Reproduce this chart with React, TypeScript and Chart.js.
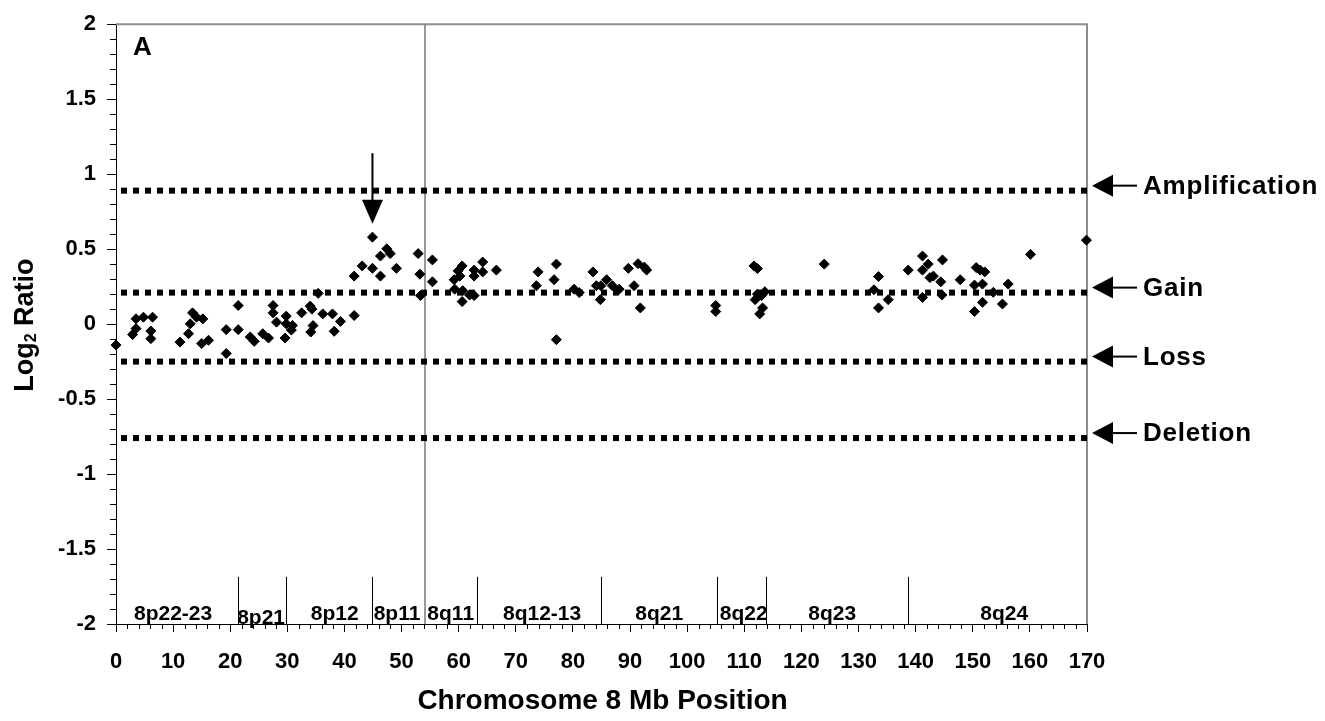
import React, { useEffect, useRef } from 'react';
import { Chart, registerables } from 'chart.js';

Chart.register(...registerables);

// Probe positions on chromosome 8 (Mb) and their log2 ratios
const probePosMb = [
  0, 2.9, 3.5, 3.5, 4.8, 6.4, 6.1, 6.1, 11.2, 12.7, 13.4, 13.0, 14.1, 15.2, 15.0, 16.2,
  19.3, 19.3, 21.4, 21.4, 23.5, 24.2, 25.7, 26.7, 27.5, 27.5, 28.1, 29.8, 29.8, 29.6,
  30.9, 30.7, 32.5, 34.0, 34.3, 34.1, 34.5, 35.4, 36.2, 37.9, 39.3, 38.2, 41.7, 41.7,
  43.1, 44.9, 44.9, 46.3, 46.3, 47.4, 48.0, 49.1, 52.9, 53.2, 53.3, 55.4, 55.4,
  59.2, 59.9, 60.6, 60.2, 59.3, 60.7, 60.6, 61.9, 62.7, 62.7, 62.7, 64.2, 64.2, 66.6,
  73.9, 73.6, 77.1, 76.7, 77.1, 80.2, 81.1, 83.5, 84.1, 84.9, 84.8, 85.9, 86.9, 88.1,
  89.7, 90.7, 91.4, 92.5, 92.9, 91.8, 105.0, 105.0,
  111.7, 112.3, 112.3, 111.9, 113.6, 113.0, 113.2, 112.7, 124.0, 133.5, 132.7, 133.5,
  135.2, 138.7, 141.2, 142.2, 141.2, 144.7, 143.1, 142.5, 144.4, 141.2, 144.6, 147.8,
  150.6, 151.3, 152.1, 150.3, 151.7, 153.6, 156.2, 151.7, 150.3, 155.2, 160.1, 169.9,
];
const probeLog2 = [
  -0.14, -0.07, -0.03, 0.035, 0.046, 0.046, -0.046, -0.097, -0.12, -0.064, 0.075, 0.002, 0.046, 0.035, -0.13, -0.108,
  -0.037, -0.196, 0.124, -0.037, -0.086, -0.115, -0.064, -0.093, 0.124, 0.075, 0.013, 0.053, 0.002, -0.093,
  -0.009, -0.04, 0.075, 0.12, 0.1, -0.053, -0.01, 0.205, 0.068, 0.068, 0.018, -0.048, 0.057, 0.32,
  0.388, 0.58, 0.372, 0.454, 0.32, 0.502, 0.47, 0.372, 0.47, 0.333, 0.19, 0.428, 0.282,
  0.296, 0.355, 0.388, 0.32, 0.233, 0.223, 0.15, 0.194, 0.19, 0.36, 0.32, 0.414, 0.348, 0.36,
  0.348, 0.256, 0.4, 0.296, -0.104, 0.233, 0.21, 0.348, 0.256, 0.256, 0.163, 0.296, 0.256, 0.233,
  0.372, 0.256, 0.403, 0.38, 0.36, 0.108, 0.124, 0.084,
  0.388, 0.37, 0.2, 0.163, 0.216, 0.19, 0.108, 0.068, 0.4, 0.317, 0.229, 0.108,
  0.163, 0.36, 0.454, 0.4, 0.36, 0.428, 0.32, 0.31, 0.282, 0.178, 0.194, 0.296,
  0.377, 0.36, 0.348, 0.26, 0.267, 0.212, 0.267, 0.145, 0.084, 0.134, 0.465, 0.56,
];

const thresholdNames = ['Amplification', 'Gain', 'Loss', 'Deletion'];
const thresholdValues = [0.89, 0.21, -0.25, -0.76];

const bandNames = ['8p22-23', '8p21', '8p12', '8p11', '8q11', '8q12-13', '8q21', '8q22', '8q23', '8q24'];
const bandLabelMb = [10.0, 25.4, 38.3, 49.2, 58.6, 74.6, 95.1, 109.9, 125.4, 155.5];
const bandBoundaryMb = [21.4, 29.8, 44.9, 63.2, 84.9, 105.2, 113.8, 138.7];
const bandBoundaryTop = -1.685;
const centromereMb = 54.1;

const arrowMb = 44.9;
const arrowShaftTop = 1.14;
const arrowHeadBase = 0.83;
const arrowHeadTip = 0.67;

const xMin = 0;
const xMax = 170;
const yMin = -2;
const yMax = 2;

const FONT = "'Liberation Sans', Arial, Helvetica, sans-serif";

const overlayPlugin = {
  id: 'overlay',
  beforeDatasetsDraw(chart: any) {
    const { ctx, chartArea: ca, scales } = chart;
    const x = scales.x;
    const y = scales.y;
    ctx.save();
    // top & right frame (gray)
    ctx.strokeStyle = '#8c8c8c';
    ctx.lineWidth = 2;
    ctx.beginPath();
    ctx.moveTo(ca.left, ca.top);
    ctx.lineTo(ca.right, ca.top);
    ctx.lineTo(ca.right, ca.bottom);
    ctx.stroke();
    // centromere line
    const cx = x.getPixelForValue(centromereMb);
    ctx.strokeStyle = '#777777';
    ctx.lineWidth = 1.5;
    ctx.beginPath();
    ctx.moveTo(cx, ca.top);
    ctx.lineTo(cx, ca.bottom);
    ctx.stroke();
    // band boundaries
    ctx.strokeStyle = '#000';
    ctx.lineWidth = 1;
    const yt = y.getPixelForValue(bandBoundaryTop);
    bandBoundaryMb.forEach((mb) => {
      const px = Math.round(x.getPixelForValue(mb)) + 0.5;
      ctx.beginPath();
      ctx.moveTo(px, yt);
      ctx.lineTo(px, ca.bottom);
      ctx.stroke();
    });
    ctx.restore();
  },
  afterDraw(chart: any) {
    const { ctx, chartArea: ca, scales } = chart;
    const x = scales.x;
    const y = scales.y;
    ctx.save();
    // minor ticks
    ctx.strokeStyle = '#000';
    ctx.lineWidth = 1;
    for (let i = -20; i <= 20; i++) {
      if (i % 5 === 0) continue;
      const py = Math.round(y.getPixelForValue(i / 10)) + 0.5;
      ctx.beginPath();
      ctx.moveTo(ca.left - 6, py);
      ctx.lineTo(ca.left, py);
      ctx.stroke();
    }
    for (let i = 0; i <= 85; i++) {
      const v = i * 2;
      if (v % 10 === 0) continue;
      const px = Math.round(x.getPixelForValue(v)) + 0.5;
      ctx.beginPath();
      ctx.moveTo(px, ca.bottom);
      ctx.lineTo(px, ca.bottom + 5);
      ctx.stroke();
    }

    // band labels
    ctx.fillStyle = '#000';
    ctx.font = `bold 21px ${FONT}`;
    ctx.textAlign = 'center';
    ctx.textBaseline = 'middle';
    bandNames.forEach((name, i) => {
      const drop = name === '8p21' ? 4 : 0;
      ctx.fillText(name, x.getPixelForValue(bandLabelMb[i]), ca.bottom - 10 + drop);
    });

    // panel letter
    ctx.font = `bold 26px ${FONT}`;
    ctx.textAlign = 'left';
    ctx.textBaseline = 'alphabetic';
    ctx.fillText('A', ca.left + 17, ca.top + 31);

    // down arrow
    const ax = x.getPixelForValue(arrowMb);
    const yTop = y.getPixelForValue(arrowShaftTop);
    const yBase = y.getPixelForValue(arrowHeadBase);
    const yTip = y.getPixelForValue(arrowHeadTip);
    ctx.lineWidth = 2;
    ctx.beginPath();
    ctx.moveTo(ax, yTop);
    ctx.lineTo(ax, yBase + 1);
    ctx.stroke();
    ctx.beginPath();
    ctx.moveTo(ax - 10.5, yBase);
    ctx.lineTo(ax + 10.5, yBase);
    ctx.lineTo(ax, yTip);
    ctx.closePath();
    ctx.fill();

    // threshold annotations on the right
    ctx.font = `bold 26px ${FONT}`;
    try { (ctx as any).letterSpacing = '0.8px'; } catch (e) {}
    ctx.textBaseline = 'middle';
    ctx.textAlign = 'left';
    thresholdNames.forEach((name, i) => {
      const py = y.getPixelForValue(thresholdValues[i]) - 5;
      const tipX = ca.right + 5;
      ctx.beginPath();
      ctx.moveTo(tipX, py);
      ctx.lineTo(tipX + 21, py - 11);
      ctx.lineTo(tipX + 21, py + 11);
      ctx.closePath();
      ctx.fill();
      ctx.lineWidth = 2;
      ctx.beginPath();
      ctx.moveTo(tipX + 20, py);
      ctx.lineTo(tipX + 45, py);
      ctx.stroke();
      ctx.fillText(name, tipX + 51, py + 1);
    });
    try { (ctx as any).letterSpacing = '0px'; } catch (e) {}

    // x axis title
    ctx.font = `bold 28px ${FONT}`;
    ctx.textAlign = 'center';
    ctx.textBaseline = 'middle';
    ctx.fillText('Chromosome 8 Mb Position', (ca.left + ca.right) / 2 + 1, 701);

    // y axis title with subscript
    ctx.translate(33, (ca.top + ca.bottom) / 2 + 1);
    ctx.rotate(-Math.PI / 2);
    ctx.textAlign = 'left';
    ctx.textBaseline = 'alphabetic';
    const big = `bold 27px ${FONT}`;
    const small = `bold 16px ${FONT}`;
    ctx.font = big;
    const w1 = ctx.measureText('Log').width;
    const w3 = ctx.measureText(' Ratio').width;
    ctx.font = small;
    const w2 = ctx.measureText('2').width;
    const total = w1 + w2 + w3;
    let sx = -total / 2;
    ctx.font = big;
    ctx.fillText('Log', sx, 0);
    sx += w1;
    ctx.font = small;
    ctx.fillText('2', sx, 3);
    sx += w2;
    ctx.font = big;
    ctx.fillText(' Ratio', sx, 0);
    ctx.restore();
  },
};

export default function App() {
  const canvasRef = useRef<HTMLCanvasElement | null>(null);

  useEffect(() => {
    if (!canvasRef.current) return;
    const points = probePosMb.map((mb, i) => ({ x: mb, y: probeLog2[i] }));
    const thresholdSets = thresholdValues.map((v, i) => ({
      type: 'line' as const,
      label: thresholdNames[i],
      data: [
        { x: xMin, y: v },
        { x: xMax, y: v },
      ],
      showLine: true,
      borderColor: '#000',
      borderWidth: 6,
      borderDash: [6, 6],
      borderDashOffset: 7,
      borderCapStyle: 'butt' as const,
      pointRadius: 0,
      fill: false,
    }));

    const chart = new Chart(canvasRef.current, {
      type: 'scatter',
      data: {
        datasets: [
          {
            label: 'Log2 ratio',
            data: points,
            pointStyle: 'rectRot',
            pointRadius: 5,
            pointBackgroundColor: '#000',
            pointBorderColor: '#000',
            pointBorderWidth: 1,
            showLine: false,
            clip: false,
          } as any,
          ...thresholdSets,
        ],
      },
      options: {
        responsive: false,
        animation: false,
        devicePixelRatio: 1,
        layout: { padding: { top: 21, right: 238, left: 0, bottom: 0 } },
        plugins: {
          legend: { display: false },
          tooltip: { enabled: false },
          title: { display: false },
        },
        scales: {
          x: {
            type: 'linear',
            min: xMin,
            max: xMax,
            ticks: {
              stepSize: 10,
              autoSkip: false,
              maxRotation: 0,
              padding: 17,
              color: '#000',
              font: { family: FONT, size: 22, weight: 'bold' },
              callback: (v: any) => String(v),
            },
            grid: {
              display: true,
              drawOnChartArea: false,
              drawTicks: true,
              tickLength: 8,
              color: '#000',
            },
            border: { display: true, color: '#000', width: 1 },
            afterFit: (s: any) => {
              s.height = 97;
            },
          },
          y: {
            type: 'linear',
            min: yMin,
            max: yMax,
            ticks: {
              stepSize: 0.5,
              padding: 11,
              color: '#000',
              font: { family: FONT, size: 22, weight: 'bold' },
              callback: (v: any) => String(Math.round(Number(v) * 10) / 10),
            },
            grid: {
              display: true,
              drawOnChartArea: false,
              drawTicks: true,
              tickLength: 9,
              color: '#000',
            },
            border: { display: true, color: '#000', width: 1 },
            afterFit: (s: any) => {
              s.width = 116;
            },
          },
        },
      } as any,
      plugins: [overlayPlugin],
    });
    return () => chart.destroy();
  }, []);

  return (
    <div style={{ position: 'fixed', left: 0, top: 0, width: 1325, height: 721, background: '#fff' }}>
      <canvas ref={canvasRef} width={1325} height={721} style={{ display: 'block' }} />
    </div>
  );
}
